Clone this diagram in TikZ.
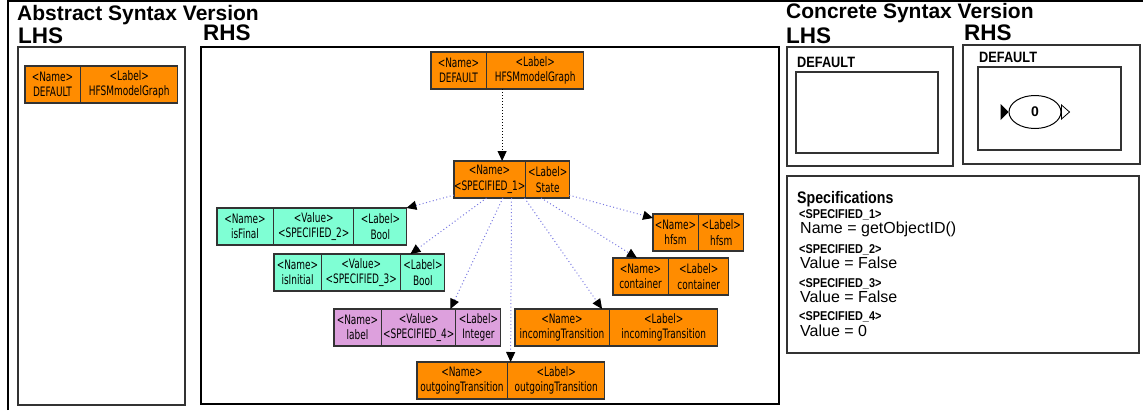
\documentclass[tikz,border=0pt]{standalone}
\usepackage{fontspec}
\setmainfont{Liberation Sans}
\newfontfamily\recfont[FakeStretch=0.69]{DejaVu Sans}
\newfontfamily\narrowfont[FakeStretch=0.85]{Liberation Sans}
\usetikzlibrary{shapes.multipart,shapes.geometric,arrows.meta}

\definecolor{recorange}{RGB}{255,140,0}
\definecolor{recaqua}{RGB}{127,255,212}
\definecolor{recplum}{RGB}{221,160,221}
\definecolor{recline}{RGB}{51,51,51}
\definecolor{linkblue}{RGB}{120,120,225}

% one field of a record: width, upper line, lower line
\newcommand{\fld}[3]{\parbox[c][37pt][c]{#1pt}{\centering #2\\#3}}

\tikzset{
  record/.style={rectangle split, rectangle split horizontal, rectangle split parts=#1,
    draw=recline, line width=1.2pt, inner sep=0pt, outer sep=0pt, anchor=north west,
    font=\recfont\fontsize{13}{15.5}\selectfont},
  title/.style={anchor=base west, inner sep=0pt, font=\bfseries\fontsize{21}{21}\selectfont},
  side/.style={anchor=base west, inner sep=0pt, font=\bfseries\fontsize{22.5}{22}\selectfont},
  boxlabel/.style={anchor=base west, inner sep=0pt, font=\narrowfont\bfseries\fontsize{15}{15}\selectfont},
  spechead/.style={anchor=base west, inner sep=0pt, font=\narrowfont\bfseries\fontsize{16.7}{17}\selectfont},
  specname/.style={anchor=base west, inner sep=0pt, font=\narrowfont\bfseries\fontsize{12.8}{13}\selectfont},
  specval/.style={anchor=base west, inner sep=0pt, font=\fontsize{16}{16}\selectfont},
  cbox/.style={draw=recline, line width=1.3pt},
  link/.style={draw=linkblue, line width=1pt, dash pattern=on 1pt off 2.5pt,
    -{Triangle[color=black,length=10pt,width=9pt]}},
  flow/.style={draw=black, line width=1pt, dash pattern=on 1pt off 2pt,
    -{Triangle[length=10pt,width=9pt]}}
}

\begin{document}
\begin{tikzpicture}[x=1pt,y=-1pt]
  \useasboundingbox (0,0) rectangle (1143,410);

  % frame and titles
  \draw[line width=1.6pt] (8,410) -- (8,1) -- (1143,1);
  \node[title] (abstitle) at (17,20) {Abstract Syntax Version};
  \node[side] (alhs) at (18,43) {LHS};
  \node[side] (arhs) at (203,40) {RHS};
  \node[title] (contitle) at (786,18) {Concrete Syntax Version};
  \node[side] (clhs) at (786,43) {LHS};
  \node[side] (crhs) at (964,40) {RHS};

  % abstract syntax boxes
  \draw[draw=recline, line width=1.1pt] (18,47) rectangle (185,405);
  \draw[line width=1.6pt] (201,47) rectangle (779,404);

  % LHS
  \node[record=2, fill=recorange] (ldef) at (25,66)
    {\fld{55}{<Name>}{DEFAULT}\nodepart{two}\fld{96}{<Label>}{HFSMmodelGraph}};

  % RHS
  \node[record=2, fill=recorange] (rdef) at (431,52)
    {\fld{55}{<Name>}{DEFAULT}\nodepart{two}\fld{96}{<Label>}{HFSMmodelGraph}};
  \node[record=2, fill=recorange] (spec1) at (454,161)
    {\fld{71}{<Name>}{<SPECIFIED\_1>}\nodepart{two}\fld{43}{<Label>}{State}};
  \node[record=3, fill=recaqua] (isfinal) at (217,208)
    {\fld{56}{<Name>}{isFinal}\nodepart{two}\fld{79}{<Value>}{<SPECIFIED\_2>}\nodepart{three}\fld{52}{<Label>}{Bool}};
  \node[record=3, fill=recaqua] (isinitial) at (274,254)
    {\fld{47}{<Name>}{isInitial}\nodepart{two}\fld{78}{<Value>}{<SPECIFIED\_3>}\nodepart{three}\fld{43}{<Label>}{Bool}};
  \node[record=3, fill=recplum] (label) at (334,309)
    {\fld{47}{<Name>}{label}\nodepart{two}\fld{73}{<Value>}{<SPECIFIED\_4>}\nodepart{three}\fld{44}{<Label>}{Integer}};
  \node[record=2, fill=recorange] (outgoing) at (417,362)
    {\fld{90}{<Name>}{outgoingTransition}\nodepart{two}\fld{96}{<Label>}{outgoingTransition}};
  \node[record=2, fill=recorange] (incoming) at (515,309)
    {\fld{94}{<Name>}{incomingTransition}\nodepart{two}\fld{107}{<Label>}{incomingTransition}};
  \node[record=2, fill=recorange] (container) at (613,258)
    {\fld{55}{<Name>}{container}\nodepart{two}\fld{59}{<Label>}{container}};
  \node[record=2, fill=recorange] (hfsm) at (653,214)
    {\fld{45}{<Name>}{hfsm}\nodepart{two}\fld{44}{<Label>}{hfsm}};

  \draw[flow] ([xshift=-5pt]rdef.south) -- ([xshift=-5pt]rdef.south |- spec1.north);
  \draw[link] (spec1) -- (isfinal.north east);
  \draw[link] (spec1) -- ([xshift=-34pt]isinitial.north east);
  \draw[link] (spec1) -- ([xshift=-50pt]label.north east);
  \draw[link] (spec1) -- (outgoing.north);
  \draw[link] (spec1) -- ([xshift=-14pt]incoming.north);
  \draw[link] (spec1) -- ([xshift=24pt]container.north west);
  \draw[link] (spec1) -- ([yshift=-4pt]hfsm.north west);

  % concrete syntax
  \draw[cbox] (787,47) rectangle (953,166);
  \node[boxlabel] (clhsname) at (797,67) {DEFAULT};
  \draw[cbox] (796,72) rectangle (938,153);
  \draw[cbox] (963,45) rectangle (1140,164);
  \node[boxlabel] (crhsname) at (979,62) {DEFAULT};
  \draw[cbox] (978,67) rectangle (1121,150);
  \node[draw, ellipse, line width=1pt, minimum width=52pt, minimum height=33pt, inner sep=0pt,
    font=\bfseries\fontsize{14}{14}\selectfont] (state0) at (1035,112) {0};
  \fill (state0.west) -- ++(-8,-8) -- ++(0,16) -- cycle;
  \draw[fill=white, line width=0.8pt] (state0.east) ++(0,-7) -- ++(8,7) -- ++(-8,7) -- cycle;

  % specifications
  \draw[cbox] (787,176) rectangle (1139,353);
  \node[spechead] (spechead) at (797,203) {Specifications};
  \node[specname] (sname1) at (799,218) {<SPECIFIED\_1>};
  \node[specval] (sval1) at (800,233) {Name = getObjectID()};
  \node[specname] (sname2) at (799,253) {<SPECIFIED\_2>};
  \node[specval] (sval2) at (800,268) {Value = False};
  \node[specname] (sname3) at (799,287) {<SPECIFIED\_3>};
  \node[specval] (sval3) at (800,302) {Value = False};
  \node[specname] (sname4) at (799,320) {<SPECIFIED\_4>};
  \node[specval] (sval4) at (800,336) {Value = 0};
\end{tikzpicture}
\end{document}
